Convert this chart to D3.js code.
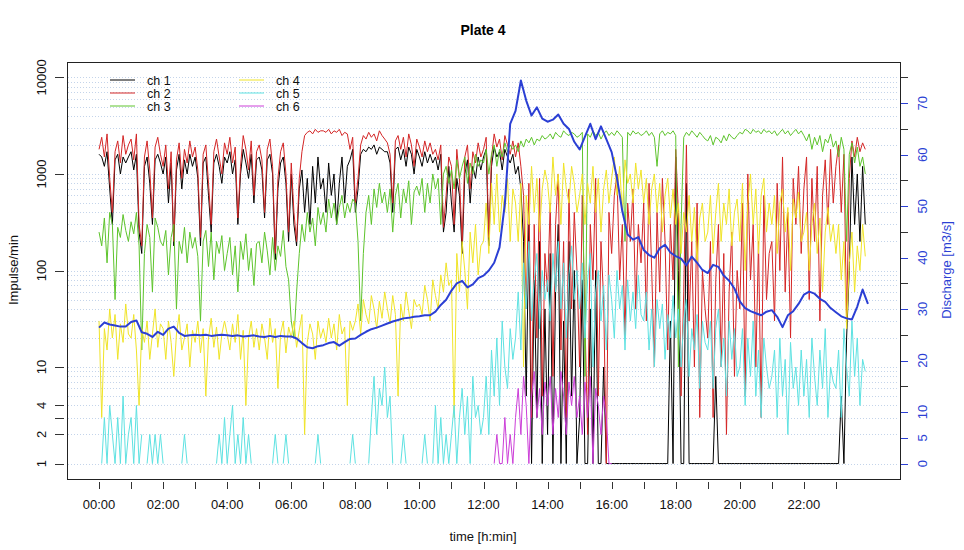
<!DOCTYPE html>
<html><head><meta charset="utf-8">
<script src="https://cdn.jsdelivr.net/npm/d3@7"></script>
<style>body{margin:0;background:#fff}</style>
</head><body>
<svg id="c" width="964" height="550"></svg>
<script>
// ---- data: counts per 5 minutes (00:00 .. 23:55), 0 = no count ----
const channelNames = ["ch 1","ch 2","ch 3","ch 4","ch 5","ch 6"];
const ch1 = [
1600,1500,1200,1700,700,300,1400,1600,1000,1500,1300,1500,
1700,1100,1600,250,150,1200,1500,800,300,1400,1600,1300,
1000,1500,500,1300,180,1100,1600,700,1400,1000,1600,1200,
1500,900,180,1300,1500,600,250,1300,1600,1200,800,1500,
1300,1700,1000,1400,300,1000,1800,1300,900,1600,500,1400,
1500,1100,350,1400,1600,1000,130,700,1300,1500,800,200,
1000,300,180,700,1100,400,900,300,1200,500,1500,700,
900,400,1300,600,1000,300,800,1500,500,1200,1400,1800,
400,700,1600,1800,1700,1900,1800,2000,1600,1900,1800,1700,
1700,1300,400,1800,1900,1400,1800,1200,1900,1600,1000,1800,
1500,1200,1700,1300,1600,1300,1500,1100,1600,250,400,1200,
500,250,900,600,150,1000,1400,500,1200,900,1500,1100,
1500,1800,180,1200,1900,1500,1700,1100,1800,1500,1300,1600,
1000,1200,700,200,5,300,1,80,3,200,1,40,
2,150,1,60,300,1,30,1,200,5,100,1,
3,80,1,1,40,1,100,1,1,10,1,1,
1,1,1,1,1,1,1,1,1,1,1,1,
1,1,1,1,1,1,1,1,1,1,30,1,
1500,100,1,1,800,1,1,1,1,1,1,1,
1,1,1,8,1,1,1,1,1,1,1,1,
1,1,1,1,1,1,1,1,1,1,1,1,
1,1,1,1,1,1,1,1,1,1,1,1,
1,1,1,1,1,1,1,1,1,1,1,1,
1,1,5,1,20,100,1500,300,1000,200,1200,300];
const ch2 = [
1800,2400,1500,2600,900,400,1700,2200,1300,2500,1600,2000,
2300,1400,2600,300,180,1500,2200,1100,350,1900,2400,1600,
1200,2000,700,1700,200,1400,2100,900,1800,1300,2200,1500,
1900,1100,220,1600,2000,800,300,1700,2300,1500,1000,2100,
1600,2400,1300,1900,350,1200,2500,1800,1100,2200,600,1700,
2000,1400,400,1800,2300,1200,150,900,1700,2100,1000,250,
1300,400,200,900,1700,2500,2700,2800,2600,2900,2700,2800,
2800,2700,2900,2600,2800,2700,2900,2500,2700,2600,1800,2400,
500,900,2000,2500,2300,2700,2400,2600,2200,2800,2500,2300,
2100,1600,500,2200,2500,1800,2400,1500,2600,2000,1200,2300,
1900,1500,2200,1700,2100,1600,1800,1400,2000,280,600,1500,
1200,300,1800,900,200,1500,2000,700,1700,1300,2100,1500,
1800,2400,220,1500,2600,1900,2300,1400,2500,2000,1600,2200,
1500,2100,1200,600,40,800,3,300,20,900,5,150,
60,500,8,300,1000,15,200,3,700,40,400,100,
10,600,30,2,300,80,900,5,200,50,1,400,
150,600,1000,80,300,20,500,200,700,40,300,120,
500,30,800,100,10,400,60,900,200,15,300,80,
1800,400,5,60,2000,30,200,10,500,3,100,40,
20,200,3,80,300,10,150,2,60,250,8,100,
40,500,5,1000,80,300,10,200,3,600,50,150,
200,30,800,100,1500,60,400,20,900,300,1200,150,
700,1500,50,900,200,1200,30,600,1400,300,1800,500,
1200,2000,400,1600,30,900,2200,1500,2400,1700,2100,1800];
const ch3 = [
250,180,350,120,400,300,50,280,220,380,260,200,
320,240,400,180,15,150,300,220,60,350,280,200,
180,260,90,220,300,40,200,150,280,120,250,170,
220,140,30,200,260,110,250,80,200,150,230,100,
150,220,90,180,60,200,130,240,100,170,70,190,
200,120,250,160,90,220,100,180,140,260,110,80,
30,20,60,150,300,200,400,250,350,180,450,300,
400,250,550,350,500,300,450,600,350,500,400,550,
500,200,30,150,400,600,300,700,450,800,500,650,
400,700,250,600,800,350,700,500,850,300,650,750,
600,900,400,800,500,1000,700,900,300,1000,1200,800,
1100,700,1400,900,1200,1500,800,1300,1000,1600,1200,1400,
1300,1800,1000,1600,2000,1200,1800,1500,2100,1700,2000,1800,
2000,1700,2200,1900,2300,2100,2400,2000,2300,2200,2500,2300,
2400,2600,2300,2700,2500,2400,2800,2600,2500,2700,2600,2400,
2500,2700,8,2600,2400,2800,2500,2700,2300,2600,2800,2500,
2700,2500,2800,2600,2400,200,2700,2500,2800,2600,2700,2500,
2600,2800,2500,2700,2400,1200,2600,2800,2500,2700,2600,2800,
2500,10,300,2400,2700,2500,2800,2600,2400,2700,2500,2300,
2200,2500,2000,2400,2300,2100,2500,2200,2600,2400,2300,2500,
2700,2600,2900,2800,2600,2900,2700,2800,2600,2900,2700,2800,
2600,2800,2500,2700,2900,2600,2800,2500,2700,2900,2600,2800,
2500,2200,2600,1800,2400,2000,2500,1700,2300,2100,2600,1900,
2200,1500,2400,1800,200,1600,2100,1300,1900,1200,1500,1000];
const ch4 = [
30,3,25,15,40,20,35,12,28,18,45,22,
20,35,15,4,25,18,30,12,22,40,16,28,
25,12,30,18,8,22,35,15,20,28,10,24,
18,30,14,25,5,20,32,16,26,12,22,30,
22,15,28,18,35,12,24,4,20,30,16,25,
15,28,20,12,32,18,25,6,22,30,14,26,
20,30,16,24,35,2,18,28,22,12,30,20,
25,18,32,20,28,15,35,22,26,4,30,24,
30,45,22,50,35,28,55,40,25,48,32,60,
40,28,55,35,5,45,30,60,38,25,50,42,
45,35,70,50,30,80,55,40,90,60,120,70,
80,3,150,60,200,100,40,250,120,300,90,180,
200,500,150,800,300,1000,250,600,400,900,200,700,
500,200,800,10,600,300,1200,400,900,250,700,1100,
800,400,1500,600,1000,300,1300,700,500,1200,800,400,
600,1000,300,800,500,1200,400,900,250,700,1100,500,
900,1500,600,1200,400,1400,800,1000,500,1300,700,1100,
500,900,300,700,1000,400,800,250,600,900,350,700,
300,500,150,400,250,600,200,450,120,350,500,200,
250,600,150,400,800,200,500,300,700,180,400,550,
200,800,100,500,1000,300,700,150,600,900,250,500,
300,600,150,500,700,250,450,100,550,350,650,200,
250,400,100,300,500,150,350,60,250,450,200,300,
150,300,80,200,25,120,250,60,180,100,300,140];
const ch5 = [
0,1,3,1,4,2,1,3,1,5,1,2,
3,1,4,1,2,0,1,2,1,2,1,2,
1,0,0,0,0,0,0,1,2,1,0,0,
0,0,0,0,0,0,0,0,1,2,1,3,
1,2,4,1,2,1,3,1,2,1,0,0,
0,0,0,0,0,1,2,1,0,1,2,1,
0,0,0,0,0,0,0,0,0,1,2,1,
0,0,0,0,0,0,0,0,0,0,1,2,
1,0,0,0,0,1,3,8,2,6,4,10,
3,5,1,0,0,1,2,1,0,0,0,0,
0,1,2,1,0,1,4,1,3,1,2,1,
2,4,1,3,6,2,5,1,8,3,4,2,
3,8,2,15,5,20,4,30,10,6,25,12,
20,60,15,120,40,200,30,80,150,25,100,50,
80,30,150,60,200,40,120,20,90,180,50,100,
40,120,20,80,150,10,60,100,30,70,15,90,
50,20,100,40,70,15,80,30,60,25,90,35,
30,60,15,40,10,50,25,45,12,35,20,55,
20,40,10,30,50,8,25,15,35,6,30,18,
15,30,6,25,40,10,20,5,30,12,25,8,
10,25,4,20,8,30,5,15,3,20,10,6,
8,15,3,20,5,12,2,18,6,10,4,15,
5,12,3,20,8,4,15,6,25,3,10,7,
6,15,3,25,10,5,30,8,20,4,12,9];
const ch6 = [
0,0,0,0,0,0,0,0,0,0,0,0,
0,0,0,0,0,0,0,0,0,0,0,0,
0,0,0,0,0,0,0,0,0,0,0,0,
0,0,0,0,0,0,0,0,0,0,0,0,
0,0,0,0,0,0,0,0,0,0,0,0,
0,0,0,0,0,0,0,0,0,0,0,0,
0,0,0,0,0,0,0,0,0,0,0,0,
0,0,0,0,0,0,0,0,0,0,0,0,
0,0,0,0,0,0,0,0,0,0,0,0,
0,0,0,0,0,0,0,0,0,0,0,0,
0,0,0,0,0,0,0,0,0,0,0,0,
0,0,0,0,0,0,0,0,0,0,0,0,
0,0,0,0,1,2,1,1,3,1,2,1,
3,6,2,8,4,1,5,9,3,6,2,7,
4,8,2,6,3,9,5,2,7,4,8,3,
5,2,7,3,8,1,6,4,2,5,3,1,
1,0,0,0,0,0,0,0,0,0,0,0,
0,0,0,0,0,0,0,0,0,0,0,0,
0,0,0,0,0,0,0,0,0,0,0,0,
0,0,0,0,0,0,0,0,0,0,0,0,
0,0,0,0,0,0,0,0,0,0,0,0,
0,0,0,0,0,0,0,0,0,0,0,0,
0,0,0,0,0,0,0,0,0,0,0,0,
0,0,0,0,0,0,0,0,0,0,0,0];
// discharge [m3/s] every 10 minutes, 00:00 .. 24:00
const discharge = [
26.4,27.4,27.0,26.8,26.6,26.6,
27.5,27.8,25.5,25.2,24.6,25.6,
25.0,26.2,26.6,25.4,24.8,24.9,
25.0,24.9,25.0,24.8,24.9,25.0,
24.9,24.8,24.9,24.7,24.8,24.9,
24.7,24.6,24.8,24.6,24.8,24.7,
24.7,24.3,23.4,22.6,22.4,22.8,
23.0,23.4,23.6,22.9,23.6,24.2,
24.3,25.0,25.6,26.1,26.4,26.8,
27.2,27.6,27.9,28.2,28.3,28.5,
28.6,28.8,28.8,29.5,30.8,31.8,
33.6,35.0,35.5,34.2,34.8,36.0,
36.5,37.5,39.0,42.0,50.5,66.0,
68.5,74.4,70.5,67.6,69.2,67.0,
66.4,66.8,67.8,66.0,65.0,62.5,
61.0,63.5,66.0,63.0,65.5,63.0,
60.5,55.5,49.0,44.5,43.5,44.0,
41.5,40.5,40.0,41.8,42.5,41.0,
40.3,39.8,38.5,40.2,39.0,37.6,
37.0,38.6,38.2,36.5,35.5,34.0,
31.5,30.2,29.6,29.2,28.8,29.5,
29.8,28.5,26.5,28.8,29.6,31.0,
32.8,33.4,33.0,32.0,31.4,30.2,
29.4,28.6,28.2,28.0,30.5,33.8,
31.0];
const timeTickHours = d3.range(0, 24);
const timeTickLabels = ["00:00","02:00","04:00","06:00","08:00","10:00","12:00","14:00","16:00","18:00","20:00","22:00"];
const leftTicks = [1,2,3,4,10,100,1000,10000];
const leftTickLabels = ["1","2","","4","10","100","1000","10000"];
const rightTicks = [0,5,10,15,20,25,30,35,40,45,50,55,60,65,70,75];
const rightTickLabels = ["0","5","10","","20","","30","","40","","50","","60","","70",""];

// ---- drawing ----
const colors = ["#000000","#d42626","#5ec42c","#f0e428","#5ee2e2","#cc3ed8"];
const dischargeColor = "#2b3fd4";
const L = 67, R = 900, T = 62, B = 479;
const svg = d3.select("#c");
const font = "'Liberation Sans', Arial, Helvetica, sans-serif";

const x = d3.scaleLinear().domain([-60, 1500]).range([L, R]);
const y = d3.scaleLog().domain([Math.pow(10,-0.16), Math.pow(10,4.16)]).range([B, T]);
const yQ = d3.scaleLinear().domain([-3, 78]).range([B, T]);

// grid (log minor)
const gridVals = [];
for (let e = 0; e < 4; e++) for (let m = 1; m <= 9; m++) gridVals.push(m * Math.pow(10, e));
gridVals.push(10000);
svg.append("g").selectAll("line").data(gridVals).join("line")
  .attr("x1", L + 1).attr("x2", R - 1)
  .attr("y1", d => Math.round(y(d)) + 0.5).attr("y2", d => Math.round(y(d)) + 0.5)
  .attr("stroke", "#c4d4ea").attr("stroke-width", 1).attr("stroke-dasharray", "1,2");

const series = [ch1, ch2, ch3, ch4, ch5, ch6];
const line = d3.line()
  .defined(d => d > 0)
  .x((d, i) => x(i * 5))
  .y(d => y(d));
const plot = svg.append("g");
series.forEach((s, k) => {
  plot.append("path").datum(s).attr("d", line)
    .attr("fill", "none").attr("stroke", colors[k]).attr("stroke-width", 1)
    .attr("stroke-linejoin", "round");
});
const qline = d3.line().x((d, i) => x(i * 10)).y(d => yQ(d));
plot.append("path").datum(discharge).attr("d", qline)
  .attr("fill", "none").attr("stroke", dischargeColor).attr("stroke-width", 2)
  .attr("stroke-linejoin", "round");

// box
svg.append("rect").attr("x", L + 0.5).attr("y", T + 0.5)
  .attr("width", R - L).attr("height", B - T)
  .attr("fill", "none").attr("stroke", "#222").attr("stroke-width", 1);

// left axis
const gl = svg.append("g");
leftTicks.forEach((v, i) => {
  const yy = Math.round(y(v)) + 0.5;
  gl.append("line").attr("x1", 55).attr("x2", 64).attr("y1", yy).attr("y2", yy).attr("stroke", "#333");
  if (leftTickLabels[i]) gl.append("text").attr("transform", `translate(46,${y(v)}) rotate(-90)`)
    .attr("text-anchor", "middle").attr("font-family", font).attr("font-size", 13).attr("fill", "#111")
    .text(leftTickLabels[i]);
});

// right axis
const gr = svg.append("g");
rightTicks.forEach((v, i) => {
  const yy = Math.round(yQ(v)) + 0.5;
  gr.append("line").attr("x1", 901).attr("x2", 908).attr("y1", yy).attr("y2", yy)
    .attr("stroke", rightTickLabels[i] ? dischargeColor : "#333");
  if (rightTickLabels[i]) gr.append("text").attr("transform", `translate(927,${yQ(v)}) rotate(-90)`)
    .attr("text-anchor", "middle").attr("font-family", font).attr("font-size", 13).attr("fill", dischargeColor)
    .text(rightTickLabels[i]);
});

// bottom axis
const gb = svg.append("g");
timeTickHours.forEach(h => {
  const xx = Math.round(x(h * 60)) + 0.5;
  gb.append("line").attr("x1", xx).attr("x2", xx).attr("y1", 482).attr("y2", 489).attr("stroke", "#333");
});
timeTickLabels.forEach((t, i) => {
  gb.append("text").attr("x", x(i * 120)).attr("y", 509).attr("text-anchor", "middle")
    .attr("font-family", font).attr("font-size", 13).attr("fill", "#111").text(t);
});

// titles
svg.append("text").attr("x", 483).attr("y", 35).attr("text-anchor", "middle")
  .attr("font-family", font).attr("font-size", 14).attr("font-weight", "bold").text("Plate 4");
svg.append("text").attr("x", 483).attr("y", 541).attr("text-anchor", "middle")
  .attr("font-family", font).attr("font-size", 13).attr("fill", "#111").text("time [h:min]");
svg.append("text").attr("transform", "translate(18,270) rotate(-90)").attr("text-anchor", "middle")
  .attr("font-family", font).attr("font-size", 13).attr("fill", "#111").text("Impulse/min");
svg.append("text").attr("transform", "translate(951,270) rotate(-90)").attr("text-anchor", "middle")
  .attr("font-family", font).attr("font-size", 13).attr("fill", dischargeColor).text("Discharge [m3/s]");

// legend
const lg = svg.append("g");
channelNames.forEach((n, k) => {
  const col = Math.floor(k / 3), row = k % 3;
  const lx = 110 + col * 129, ly = 80 + row * 13;
  lg.append("line").attr("x1", lx).attr("x2", lx + 25).attr("y1", ly).attr("y2", ly)
    .attr("stroke", colors[k]).attr("stroke-width", 1);
  lg.append("text").attr("x", lx + 37).attr("y", ly + 4.5).attr("font-family", font)
    .attr("font-size", 12.5).attr("fill", "#111").text(n);
});
</script>
</body></html>
